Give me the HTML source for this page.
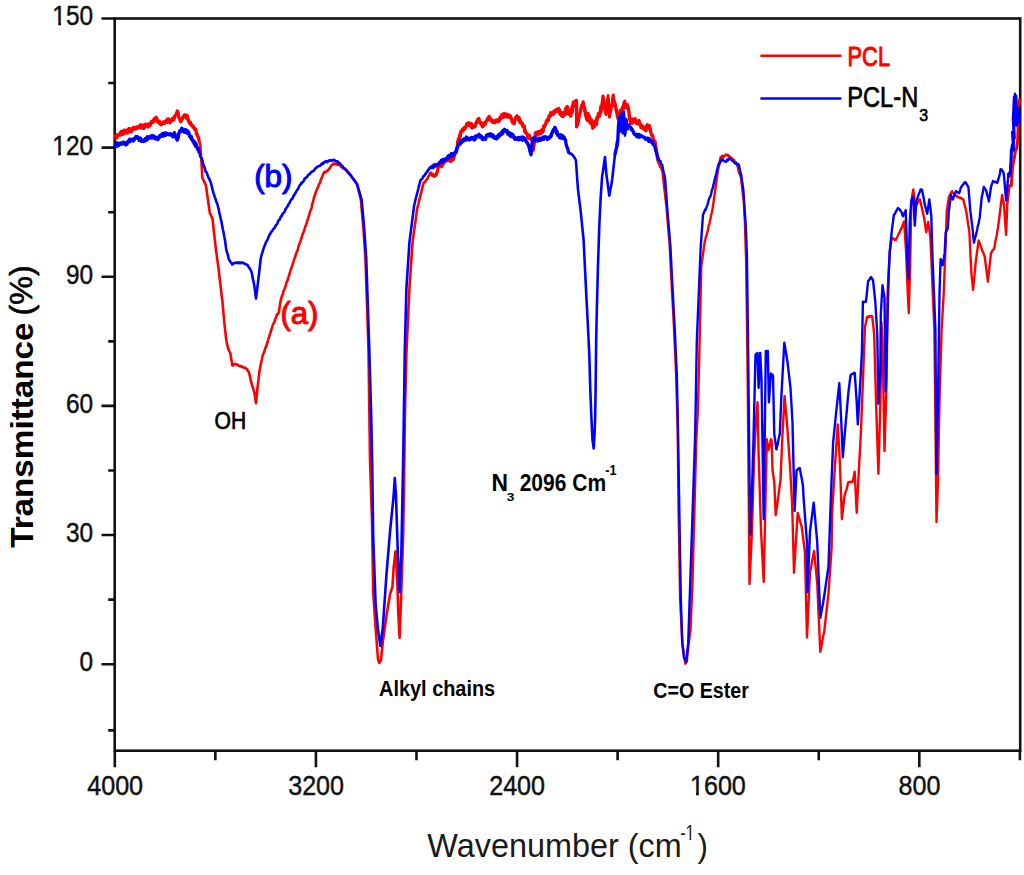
<!DOCTYPE html>
<html><head><meta charset="utf-8"><style>
html,body{margin:0;padding:0;background:#fff;}
svg{display:block;font-family:"Liberation Sans",sans-serif;}
</style></head><body>
<svg width="1024" height="875" viewBox="0 0 1024 875">
<rect width="1024" height="875" fill="#fff"/>
<rect x="114.7" y="18.5" width="905.50" height="732.20" fill="none" stroke="#111" stroke-width="2.6"/>
<path d="M101.50 18.50H114.7 M101.50 147.64H114.7 M101.50 276.78H114.7 M101.50 405.92H114.7 M101.50 535.06H114.7 M101.50 664.20H114.7 M108.20 83.07H114.7 M108.20 212.21H114.7 M108.20 341.35H114.7 M108.20 470.49H114.7 M108.20 599.63H114.7 M108.20 730.40H114.7 M114.80 750.7V767.2 M315.93 750.7V767.2 M517.06 750.7V767.2 M718.18 750.7V767.2 M919.31 750.7V767.2 M215.36 750.7V760.2 M416.49 750.7V760.2 M617.62 750.7V760.2 M818.75 750.7V760.2 M1019.88 750.7V760.2" stroke="#111" stroke-width="2.6" fill="none"/>
<text transform="translate(52.37,25.48) scale(0.8990,1)" font-size="27.18" font-weight="normal" fill="#111" stroke="#111" stroke-width="0.45">150</text><g transform="translate(52.37,25.48) scale(0.8990,1)"><rect x="0.82" y="-4.04" width="5.66" height="6.16" fill="#fff"/><rect x="9.62" y="-4.04" width="5.32" height="6.16" fill="#fff"/></g>
<text transform="translate(52.37,154.62) scale(0.8990,1)" font-size="27.18" font-weight="normal" fill="#111" stroke="#111" stroke-width="0.45">120</text><g transform="translate(52.37,154.62) scale(0.8990,1)"><rect x="0.82" y="-4.04" width="5.66" height="6.16" fill="#fff"/><rect x="9.62" y="-4.04" width="5.32" height="6.16" fill="#fff"/></g>
<text transform="translate(65.93,283.76) scale(0.8990,1)" font-size="27.18" font-weight="normal" fill="#111" stroke="#111" stroke-width="0.45">90</text>
<text transform="translate(65.93,412.90) scale(0.8990,1)" font-size="27.18" font-weight="normal" fill="#111" stroke="#111" stroke-width="0.45">60</text>
<text transform="translate(65.93,542.04) scale(0.8990,1)" font-size="27.18" font-weight="normal" fill="#111" stroke="#111" stroke-width="0.45">30</text>
<text transform="translate(79.61,671.18) scale(0.8990,1)" font-size="27.18" font-weight="normal" fill="#111" stroke="#111" stroke-width="0.45">0</text>
<text transform="translate(87.23,794.63) scale(0.9149,1)" font-size="27.46" font-weight="normal" fill="#111" stroke="#111" stroke-width="0.45">4000</text>
<text transform="translate(288.17,794.63) scale(0.9149,1)" font-size="27.46" font-weight="normal" fill="#111" stroke="#111" stroke-width="0.45">3200</text>
<text transform="translate(489.18,794.63) scale(0.9149,1)" font-size="27.46" font-weight="normal" fill="#111" stroke="#111" stroke-width="0.45">2400</text>
<text transform="translate(689.99,794.63) scale(0.9149,1)" font-size="27.46" font-weight="normal" fill="#111" stroke="#111" stroke-width="0.45">1600</text><g transform="translate(689.99,794.63) scale(0.9149,1)"><rect x="0.82" y="-4.06" width="5.72" height="6.18" fill="#fff"/><rect x="9.71" y="-4.06" width="5.36" height="6.18" fill="#fff"/></g>
<text transform="translate(898.47,794.63) scale(0.9149,1)" font-size="27.46" font-weight="normal" fill="#111" stroke="#111" stroke-width="0.45">800</text>
<path d="M115.0 137.7 L115.6 135.6 L116.2 138.3 L116.9 137.5 L117.5 134.8 L118.1 135.4 L118.8 134.7 L119.4 135.1 L120.0 134.0 L120.6 135.0 L121.2 131.7 L121.9 131.2 L122.5 134.5 L123.1 132.5 L123.8 133.7 L124.4 130.1 L125.0 132.0 L125.6 131.5 L126.2 132.5 L126.8 130.2 L127.5 133.1 L128.1 132.7 L128.7 128.7 L129.3 128.4 L129.9 130.3 L130.5 130.3 L131.2 131.9 L131.8 129.3 L132.4 128.4 L133.1 129.1 L133.7 127.3 L134.4 127.9 L135.0 129.0 L135.6 128.5 L136.2 128.5 L136.9 127.1 L137.5 126.8 L138.1 126.5 L138.8 127.3 L139.4 126.3 L140.0 127.0 L140.6 124.8 L141.2 128.2 L141.9 126.9 L142.5 127.1 L143.1 125.0 L143.8 128.4 L144.4 127.7 L145.0 126.0 L145.6 124.1 L146.2 124.9 L146.8 126.4 L147.5 126.1 L148.1 126.9 L148.7 124.5 L149.3 124.6 L150.0 125.4 L150.7 124.0 L151.3 121.8 L152.0 122.0 L152.6 121.6 L153.2 122.2 L153.8 121.3 L154.4 119.1 L155.0 118.3 L155.6 119.2 L156.2 117.3 L156.8 118.8 L157.4 121.8 L158.0 121.0 L158.7 121.4 L159.3 121.1 L160.0 123.5 L160.7 124.0 L161.3 124.6 L161.9 124.2 L162.5 122.6 L163.2 122.6 L163.8 122.6 L164.4 123.5 L165.0 122.0 L165.6 121.9 L166.2 121.1 L166.8 121.4 L167.4 119.1 L168.0 121.0 L168.7 118.9 L169.3 121.8 L170.0 122.9 L170.7 121.1 L171.3 120.2 L172.0 120.6 L172.6 118.2 L173.2 118.8 L173.8 120.0 L174.4 118.1 L175.0 116.0 L175.8 114.5 L176.5 114.2 L177.3 110.9 L178.2 113.3 L179.0 118.0 L179.8 118.9 L180.5 121.7 L181.3 120.6 L182.2 119.1 L183.0 117.0 L183.7 116.3 L184.4 114.9 L185.2 115.6 L185.9 114.9 L186.6 118.3 L187.3 115.5 L188.0 119.0 L188.6 121.2 L189.2 122.4 L189.8 123.6 L190.4 122.9 L191.1 124.7 L191.7 125.8 L192.3 125.3 L193.0 126.0 L193.7 127.5 L194.3 128.1 L195.0 129.7 L195.8 129.3 L196.5 134.4 L197.3 134.3 L197.9 136.8 L198.5 137.4 L199.1 140.8" stroke="#ff0000" stroke-width="3.3" fill="none" stroke-linejoin="round" stroke-linecap="round"/>
<path d="M199.1 140.8 L199.7 142.9 L200.3 145.1 L201.6 164.2 L202.3 177.9 L203.0 179.0 L203.7 180.4 L204.4 182.1 L205.1 183.6 L205.8 184.8 L206.5 189.5 L207.1 193.9 L207.8 198.5 L209.9 213.6 L210.6 214.3 L211.2 215.9 L211.9 217.2 L212.6 219.0 L214.0 232.7 L216.0 249.9 L218.6 269.1 L220.6 286.6 L222.5 302.2 L224.4 323.6 L226.4 341.0 L227.0 343.7 L227.7 346.7 L228.3 348.8 L229.0 350.5 L229.6 351.8 L230.3 352.7 L230.9 357.3 L231.6 360.8 L232.2 365.3 L232.8 365.6 L233.5 365.2 L234.1 364.2 L234.8 364.0 L235.4 363.8 L236.1 364.3 L236.8 365.0 L237.4 364.6 L238.1 364.8 L238.7 365.8 L239.3 365.7 L240.0 366.3 L240.6 365.9 L241.3 366.2 L241.9 367.0 L242.6 366.7 L243.2 367.0 L243.9 367.9 L244.5 367.7 L245.2 367.7 L245.8 368.2 L246.4 368.9 L247.0 369.1 L247.6 370.4 L248.2 371.2 L248.8 372.1 L249.5 374.6 L250.2 377.4 L251.0 381.4 L251.7 383.8 L252.4 386.2 L253.1 388.2 L253.9 391.2 L254.6 393.5 L255.3 398.8 L256.0 403.2 L257.5 387.7 L259.4 372.1 L260.0 368.3 L260.6 365.2 L261.2 362.3 L261.8 360.0 L262.4 356.6 L263.0 354.4 L263.6 353.5 L264.2 351.7 L264.8 349.9 L265.4 347.7 L266.0 347.1 L266.6 345.1 L267.2 343.0 L267.8 341.1 L268.4 338.7 L269.0 337.4 L269.6 335.1 L270.3 333.4 L270.9 331.0 L271.5 329.5 L272.1 327.4 L272.8 325.0 L273.4 323.6 L274.1 322.7 L274.8 320.8 L275.5 318.3 L276.1 317.3 L276.8 315.0 L277.4 313.9 L278.1 314.0 L278.7 312.6 L279.4 308.8 L280.0 304.3 L280.7 300.3 L281.4 297.9 L282.1 295.4 L282.8 294.5 L283.5 291.3 L284.2 289.8 L284.8 288.3 L285.5 286.6 L286.1 284.2 L286.7 281.7 L287.4 280.7 L288.0 279.0 L288.6 276.7 L289.3 274.5 L289.9 272.4 L290.6 270.4 L291.2 268.3 L291.8 267.1 L292.5 264.8 L293.1 263.0 L293.7 260.8 L294.3 258.9 L294.9 257.9 L295.5 255.6 L296.1 254.1 L296.7 252.0 L297.3 251.0 L297.9 249.3 L298.5 246.2 L299.1 244.7 L299.7 243.1 L300.3 242.2 L300.9 240.2 L301.5 237.8 L302.1 236.2 L302.7 233.9 L303.4 232.6 L304.0 231.0 L304.6 229.2 L305.3 226.4 L305.9 225.3 L306.6 223.1 L307.2 220.9 L307.8 219.7 L308.5 216.8 L309.1 215.5 L309.7 212.7 L310.4 210.9 L311.0 209.5 L311.7 207.3 L312.4 203.5 L313.1 201.5 L313.8 198.5 L314.5 195.6 L315.2 194.4 L315.8 192.1 L316.5 190.4 L317.2 188.6 L317.9 187.8 L318.5 185.7 L319.2 183.9 L319.9 183.0 L320.5 181.3 L321.2 178.7 L321.9 177.7 L322.6 175.6 L323.2 173.9 L323.9 173.0 L324.5 171.9 L325.1 172.6 L325.7 172.0 L326.4 171.6 L327.0 170.5 L327.6 170.4 L328.2 170.2 L328.8 169.3 L329.4 168.3 L330.1 167.7 L330.7 166.4 L331.4 165.4 L332.0 164.8 L332.7 164.8 L333.3 163.4 L334.0 163.7 L334.6 164.3 L335.3 163.8 L335.9 163.8 L336.6 164.6 L337.2 164.8 L337.9 164.0 L338.5 164.9 L339.2 164.9 L339.8 164.9 L340.4 165.5 L341.1 166.8 L341.7 166.4 L342.3 167.1 L342.9 168.4 L343.6 168.3 L344.2 168.4 L344.8 169.0 L345.4 169.6 L346.1 170.5 L346.7 170.8 L347.4 171.2 L348.0 172.7 L348.7 173.0 L349.4 174.3 L350.0 175.0 L350.7 175.3 L351.3 176.0 L352.0 177.0 L352.6 177.9 L353.2 178.4 L353.9 179.7 L354.5 180.2 L355.1 181.0 L355.8 182.6 L356.4 183.0 L357.0 184.0 L357.6 186.6 L358.3 189.1 L358.9 191.6 L359.5 194.0 L360.2 197.1 L360.8 199.4 L363.3 227.2 L365.4 258.0 L367.0 304.3 L368.5 350.6 L370.0 460.0 L372.0 520.0 L373.2 592.0 L375.6 628.0 L378.0 659.0 L379.2 662.8 L379.8 662.1 L380.4 661.2 L381.0 660.0 L382.8 642.4 L386.4 616.0 L390.0 594.4 L390.8 591.8 L391.6 589.4 L392.4 587.2 L393.6 568.0 L395.5 551.2 L397.2 580.0 L398.4 616.0 L399.6 637.6 L401.3 592.0 L403.2 532.0 L404.4 460.0 L404.8 420.0 L406.4 353.7 L409.4 288.9 L412.5 242.6 L417.2 208.6 L417.8 206.2 L418.4 204.0 L419.0 201.2 L419.6 198.9 L420.2 196.4 L420.9 193.7 L421.5 191.4 L422.1 188.7 L422.7 186.2 L423.3 184.0 L423.9 182.6 L424.6 181.9 L425.2 181.9 L425.9 180.3 L426.5 179.7 L427.1 178.8 L427.8 178.4 L428.4 176.5 L429.1 175.5 L429.7 174.6 L430.4 173.6" stroke="#ff0000" stroke-width="2.6" fill="none" stroke-linejoin="round" stroke-linecap="round"/>
<path d="M430.4 173.6 L431.0 173.1 L431.6 174.5 L432.2 175.3 L432.9 174.5 L433.5 175.2 L434.1 176.2 L435.0 175.8 L435.9 175.2 L436.6 173.5 L437.3 171.6 L438.0 168.5 L438.7 165.9 L439.4 165.4 L440.2 164.9 L440.9 164.7 L441.7 166.4 L442.3 165.5 L443.0 162.8 L443.6 161.8 L444.2 162.7 L444.8 160.4 L445.5 161.2 L446.1 159.1 L446.8 159.2 L447.4 160.6 L448.1 158.0 L448.7 159.4 L449.4 160.7 L450.0 157.9 L450.7 161.5 L451.3 158.4 L452.0 159.8 L452.6 159.8 L453.3 159.6 L453.9 157.8 L454.5 154.4 L455.1 152.4 L455.8 153.0 L456.4 151.8 L457.1 148.5 L457.8 141.5 L458.4 138.9 L459.1 139.9 L459.7 134.9 L460.3 136.6 L460.9 131.1 L461.6 130.7 L462.2 129.8 L462.9 130.9 L463.5 129.8 L464.2 129.6 L464.8 128.7 L465.5 127.6 L466.1 126.7 L466.8 123.8 L467.4 124.3 L468.1 123.9 L468.7 122.7 L469.4 125.5 L470.0 125.6 L470.7 124.1 L471.3 123.6 L472.0 128.0 L472.6 127.6 L473.3 126.8 L473.9 126.9 L474.5 126.0 L475.2 126.4 L475.8 123.5 L476.4 122.2 L477.0 120.9 L477.7 119.5 L478.3 119.5 L478.9 118.4 L479.6 122.3 L480.2 122.3 L480.8 124.0 L481.4 122.8 L482.1 125.2 L482.7 126.9 L483.4 124.3 L484.0 123.3 L484.7 122.9 L485.3 124.5 L486.0 121.5 L486.6 120.6 L487.3 120.6 L487.9 117.9 L488.6 118.1 L489.2 116.4 L489.9 119.2 L490.5 119.6 L491.2 120.7 L491.8 120.3 L492.5 121.9 L493.1 122.6 L493.8 120.8 L494.4 122.5 L495.0 122.0 L495.7 121.5 L496.3 120.0 L496.9 120.4 L497.5 120.6 L498.2 121.8 L498.8 119.5 L499.5 120.8 L500.1 117.3 L500.8 118.5 L501.4 115.2 L502.1 114.7 L502.7 116.2 L503.4 117.3 L504.0 113.4 L504.7 114.4 L505.4 115.9 L506.0 116.7 L506.7 114.3 L507.3 116.3 L508.0 117.2 L508.6 115.3 L509.3 117.0 L509.9 117.4 L510.6 116.6 L511.3 118.5 L512.0 121.2 L512.8 122.9 L513.5 122.5 L514.1 123.6 L514.7 120.9 L515.4 118.0 L516.0 117.4 L516.6 116.3 L517.2 116.6 L517.9 118.0 L518.5 119.9 L519.2 117.6 L519.8 121.6 L520.5 122.8 L521.1 122.1 L521.8 123.9 L522.4 123.3 L523.1 126.9 L523.7 126.9 L524.3 126.2 L524.9 132.1 L525.5 132.7 L526.2 133.4 L526.8 133.1 L527.4 135.7 L528.0 138.0 L528.7 138.6 L529.3 135.1 L530.0 138.4 L530.6 139.1 L531.2 138.6 L531.9 139.2 L532.5 138.6 L533.3 150.3 L535.5 132.7 L536.1 132.4 L536.8 134.7 L537.4 134.9 L538.1 132.1 L538.7 134.1 L539.4 132.4 L540.0 131.1 L540.7 131.9 L541.3 132.7 L541.9 129.7 L542.6 132.1 L543.2 131.1 L543.8 125.9 L544.4 126.9 L545.1 124.7 L545.7 123.9 L546.4 120.9 L547.0 120.7 L547.7 119.3 L548.3 120.6 L549.0 115.9 L549.6 115.6 L550.3 115.7 L550.9 112.5 L551.6 113.7 L552.2 113.9 L552.8 113.5 L553.4 114.2 L554.0 110.8 L554.6 110.8 L555.2 111.7 L555.9 110.0 L556.5 111.2 L557.1 109.0 L557.7 111.1 L558.3 111.5 L558.9 109.3 L559.5 112.2 L560.2 114.3 L560.8 112.2 L561.4 112.6 L562.0 116.3 L562.7 116.5 L563.3 115.2 L563.9 115.0 L564.6 112.5 L565.2 110.7 L565.8 108.3 L566.4 113.8 L567.1 106.7 L567.7 109.3 L568.5 113.0 L569.2 112.6 L570.0 113.7 L570.7 116.1 L571.5 112.4 L572.2 112.5 L572.9 106.4 L573.5 102.1 L574.1 104.4 L574.7 104.1 L575.3 100.8 L575.9 101.5 L576.5 100.5 L576.6 126.9 L577.2 123.2 L577.8 122.3 L578.5 115.1 L579.1 116.6 L579.7 114.2 L580.3 112.2 L581.0 107.9 L581.8 106.2 L582.5 107.1 L583.2 102.0 L583.9 107.3 L584.7 109.2 L585.4 114.3 L586.1 116.6 L586.7 115.9 L587.4 114.8 L588.0 113.4 L588.6 116.3 L589.2 119.6 L589.9 122.5 L590.5 119.5 L591.2 123.9 L592.0 122.5 L592.7 128.3 L593.4 125.4 L594.0 124.0 L594.7 126.3 L595.3 121.5 L595.9 123.4 L596.5 124.6 L597.2 117.4 L597.8 118.1 L598.4 113.7 L599.0 116.2 L599.6 114.0 L600.3 111.0 L600.9 106.3 L601.5 109.3 L603.0 96.1 L605.9 113.7 L608.1 97.6 L609.5 116.6 L610.1 112.2 L610.7 109.1 L611.4 105.5 L612.0 106.2 L612.6 100.3 L613.2 96.1 L613.9 101.1 L614.7 105.5 L615.4 104.9 L616.1 110.4 L616.8 111.4 L617.6 117.0 L618.3 118.1 L619.0 117.7 L619.6 116.2 L620.3 114.4 L620.9 110.7 L621.6 111.1 L622.2 109.5 L622.9 110.6 L623.5 107.6 L624.2 103.4 L624.8 107.0 L625.4 106.8 L626.0 107.6 L626.7 106.3 L627.3 104.7 L627.9 106.4 L628.6 109.5 L629.4 117.6 L630.1 121.0 L630.7 123.4 L631.4 121.3 L632.0 118.9 L632.6 123.0 L633.2 120.9 L633.9 120.8 L634.5 121.0 L635.1 118.6 L635.8 121.7 L636.4 123.4 L637.1 121.8 L637.7 121.7 L638.4 123.9 L639.0 120.4 L639.7 123.6 L640.3 123.9 L640.9 127.4 L641.6 126.7 L642.2 125.8 L642.8 128.4 L643.4 128.7 L644.1 127.2 L644.7 129.8 L645.3 127.4 L646.0 130.9 L646.6 126.5 L647.2 124.7 L647.8 128.6 L648.5 126.2 L649.1 125.4 L649.8 127.2 L650.5 130.6 L651.3 134.3 L652.0 135.7 L652.6 135.4 L653.2 138.6 L653.8 139.9 L654.4 141.3 L655.0 141.5 L657.9 160.6 L658.5 161.6 L659.2 163.7 L659.8 164.4 L660.4 166.6" stroke="#ff0000" stroke-width="3.3" fill="none" stroke-linejoin="round" stroke-linecap="round"/>
<path d="M660.4 166.6 L661.0 167.2 L661.7 169.9 L662.3 170.8 L664.5 189.9 L666.5 207.6 L669.7 246.0 L671.3 278.0 L673.9 326.0 L676.1 374.0 L677.7 430.0 L678.6 509.0 L680.1 598.3 L682.3 642.9 L685.3 663.7 L686.1 662.6 L687.0 660.0 L688.5 645.0 L690.5 629.5 L692.4 584.7 L694.2 519.0 L696.3 440.0 L697.9 410.0 L699.6 341.4 L701.3 266.0 L704.7 242.0 L705.4 239.1 L706.0 236.2 L706.6 235.3 L707.3 232.2 L708.0 229.9 L708.6 225.5 L709.2 224.9 L709.9 221.4 L710.5 218.8 L711.1 215.3 L711.8 212.7 L712.4 210.0 L715.5 188.0 L718.0 170.0 L718.6 167.4 L719.3 164.2 L720.0 159.6 L720.6 157.1 L721.2 157.2 L721.9 155.8 L722.5 157.5 L723.1 156.0 L723.8 156.9 L724.4 156.2 L725.0 155.6 L725.7 154.6 L726.3 154.9 L726.9 155.3 L727.6 154.8 L728.2 155.2 L728.8 156.9 L729.5 156.5 L730.1 157.8 L730.7 156.9 L731.4 158.4 L732.0 158.3 L732.7 159.6 L733.3 159.5 L734.0 159.8 L734.6 161.3 L735.3 162.4 L735.9 162.2 L736.6 164.0 L737.2 165.4 L737.9 167.2 L738.5 170.6 L739.2 173.4 L739.8 174.0 L740.5 175.7 L741.1 178.9 L743.8 201.7 L744.9 222.3 L746.1 260.0 L746.7 300.0 L747.2 340.0 L747.7 380.0 L749.5 583.9 L752.0 530.0 L754.0 460.0 L756.0 420.0 L757.5 402.3 L758.6 453.7 L761.0 530.0 L763.7 581.9 L765.5 500.0 L766.8 439.3 L767.6 444.9 L768.5 450.0 L769.3 446.7 L770.1 443.3 L770.9 439.3 L771.6 440.0 L772.5 470.0 L773.4 476.3 L774.3 482.3 L775.7 515.2 L778.4 496.0 L780.5 479.6 L782.5 434.3 L784.6 396.0 L787.3 427.4 L790.0 465.8 L792.1 502.9 L794.0 572.6 L797.7 512.9 L798.4 515.1 L799.1 518.0 L799.8 519.7 L800.4 522.7 L801.1 524.5 L801.8 527.3 L804.9 552.0 L807.0 637.4 L810.0 572.6 L810.7 568.9 L811.4 565.4 L812.0 561.7 L812.7 557.9 L813.4 554.3 L814.1 551.0 L817.2 582.9 L820.3 651.8 L821.0 648.5 L821.7 644.6 L822.3 641.1 L823.0 637.1 L823.7 634.0 L824.4 630.2 L828.5 593.2 L831.6 547.9 L832.1 512.8 L835.1 463.5 L837.8 424.4 L839.9 463.5 L841.9 519.0 L844.4 496.4 L845.1 493.8 L845.8 491.7 L846.5 489.6 L847.1 487.3 L847.8 483.9 L848.5 482.0 L849.2 482.3 L849.9 482.4 L850.5 481.8 L851.2 481.9 L851.9 482.1 L852.6 482.0 L853.3 479.0 L854.0 475.0 L854.7 471.7 L856.7 512.8 L858.8 471.7 L860.9 432.6 L862.9 381.2 L865.0 326.4 L865.7 323.7 L866.3 320.5 L867.0 317.1 L867.6 316.6 L868.3 317.3 L869.0 316.2 L869.6 316.2 L870.2 316.6 L870.9 315.9 L871.6 316.1 L872.2 316.1 L874.2 334.6 L876.0 400.0 L878.4 473.7 L880.4 401.7 L881.4 322.3 L882.5 340.0 L884.5 451.1 L886.6 381.2 L887.6 293.5 L889.7 252.3 L891.7 237.9 L892.4 237.9 L893.1 238.6 L893.8 239.3 L894.4 239.7 L895.1 239.2 L895.8 240.0 L896.4 238.4 L897.0 238.0 L897.6 236.0 L898.2 235.0 L898.8 233.7 L899.4 232.5 L900.0 231.7 L900.7 229.5 L901.4 228.4 L902.0 226.8 L902.7 225.0 L903.4 223.5 L904.1 221.4 L906.1 252.3 L907.8 293.5 L908.8 313.0 L910.2 262.6 L911.3 200.9 L912.0 197.3 L912.6 193.2 L913.3 189.5 L915.4 207.0 L916.0 205.9 L916.6 205.0 L917.3 203.5 L917.9 201.9 L918.5 200.9 L919.2 199.7 L920.0 199.4 L920.7 202.9 L921.4 205.7 L922.0 208.5 L922.7 211.8 L923.4 214.9 L924.1 217.9 L924.8 222.7 L925.5 227.1 L926.2 232.3 L926.9 228.7 L927.5 225.3 L928.2 222.0 L930.3 236.4 L931.3 257.0 L932.8 294.0 L934.4 330.0 L935.5 430.0 L936.5 522.0 L938.0 480.0 L939.5 400.0 L941.6 330.0 L943.7 294.0 L945.7 242.6 L946.7 211.7 L948.8 197.3 L949.4 195.8 L950.0 195.2 L950.7 193.6 L951.3 192.6 L951.9 191.2 L952.5 192.2 L953.1 193.1 L953.8 193.9 L954.4 194.7 L955.0 195.3 L955.7 195.4 L956.4 196.4 L957.0 196.0 L957.7 197.1 L958.4 197.3 L959.1 197.3 L959.8 198.0 L960.5 197.6 L961.2 197.9 L961.8 199.0 L962.5 199.0 L963.2 199.4 L963.8 201.7 L964.4 204.8 L965.1 206.3 L965.7 209.3 L966.3 211.7 L969.4 232.3 L971.4 273.5 L973.1 289.9 L975.6 263.2 L978.6 240.5 L979.2 242.1 L979.8 243.4 L980.5 245.4 L981.1 247.3 L981.7 248.8 L982.3 250.8 L982.9 251.6 L983.6 253.7 L984.2 255.0 L984.8 257.0 L987.9 281.7 L991.0 252.9 L991.6 252.4 L992.2 250.8 L992.9 250.0 L993.5 249.5 L994.1 248.8 L994.7 245.7 L995.3 242.0 L996.0 238.5 L996.6 235.9 L997.2 232.3 L998.0 227.6 L998.7 222.3 L1002.1 194.9 L1002.7 198.8 L1003.4 201.3 L1004.0 205.0 L1006.1 234.9 L1007.3 204.0 L1009.6 185.7" stroke="#ff0000" stroke-width="2.4" fill="none" stroke-linejoin="round" stroke-linecap="round"/>
<path d="M1009.6 185.7 L1010.5 185.5 L1011.3 185.7 L1012.4 168.6 L1013.2 163.5 L1014.0 160.0 L1014.6 155.9 L1015.3 151.4 L1016.0 149.5 L1016.6 148.6 L1017.7 140.0 L1018.2 125.0 L1017.5 118.0 L1018.9 102.9 L1019.5 99.4" stroke="#ff0000" stroke-width="3.0" fill="none" stroke-linejoin="round" stroke-linecap="round"/>
<path d="M560.0 110.4 L560.5 111.9 L561.0 115.5 L561.5 112.5 L562.0 113.5 L562.5 114.8 L563.0 112.3 L563.5 115.0 L564.0 115.3 L564.5 115.9 L565.0 109.7 L565.5 110.7 L566.0 108.3 L566.5 113.4 L567.0 111.8 L567.5 105.9 L568.0 113.7 L568.5 114.5 L569.0 113.0 L569.5 113.7 L570.0 111.0 L570.5 108.6 L571.0 111.4 L571.5 106.4 L572.0 106.2 L572.5 105.3 L573.0 102.5 L573.5 105.1 L574.0 104.1 L574.5 106.5 L575.0 103.1 L575.5 103.3 L576.0 101.3 L576.5 101.8 L577.0 125.0 L577.5 121.5 L578.0 125.3 L578.5 123.3 L579.0 120.1 L579.5 117.0 L580.0 111.9 L580.5 109.3 L581.0 108.1 L581.5 104.5 L582.0 108.4 L582.5 103.7 L583.0 105.5 L583.5 102.6 L584.0 109.7 L584.5 111.3 L585.0 107.1 L585.5 111.3 L586.0 119.4 L586.5 116.6 L587.0 121.0 L587.5 116.7 L588.0 114.4 L588.5 119.2 L589.0 120.7 L589.5 117.0 L590.0 115.9 L590.5 118.2 L591.0 124.2 L591.5 123.6 L592.0 119.5 L592.5 121.5 L593.0 121.4 L593.5 121.7 L594.0 126.8 L594.5 121.0 L595.0 123.2 L595.5 121.5 L596.0 118.6 L596.5 122.1 L597.0 116.5 L597.5 119.7 L598.0 114.6 L598.5 115.8 L599.0 112.9 L599.5 112.2 L600.0 116.6 L600.5 114.1 L601.0 108.9 L601.5 112.4 L602.0 102.6 L602.5 99.7 L603.0 98.9 L603.5 100.3 L604.0 99.0 L604.5 109.1 L605.0 105.9 L605.5 109.3 L606.0 115.1 L606.5 107.9 L607.0 104.0 L607.5 98.6 L608.0 95.1 L608.5 103.7 L609.0 107.8 L609.5 117.4 L610.0 112.8 L610.5 110.7 L611.0 112.0 L611.5 105.4 L612.0 103.3 L612.5 102.9 L613.0 94.7 L613.5 94.5 L614.0 102.6 L614.5 103.8 L615.0 101.3 L615.5 102.9 L616.0 109.5 L616.5 113.4 L617.0 109.8 L617.5 118.1 L618.0 119.8 L618.5 118.4 L619.0 115.7 L619.5 111.9 L620.0 110.2 L620.5 116.3 L621.0 109.3 L621.5 111.8 L622.0 106.9 L622.5 110.2 L623.0 107.2 L623.5 103.5 L624.0 101.3 L624.5 105.4 L625.0 100.6 L625.5 102.3 L626.0 105.3 L626.5 108.1 L627.0 106.6 L627.5 104.3 L628.0 110.4 L628.5 108.0 L629.0 109.8 L629.5 115.2 L630.0 119.9" stroke="#ff0000" stroke-width="2.2" fill="none" stroke-linejoin="round" stroke-linecap="round"/>
<path d="M118.0 135.4 L118.5 135.6 L119.0 135.3 L119.5 133.2 L120.0 132.4 L120.5 133.4 L121.0 132.9 L121.5 134.4 L122.0 133.8 L122.5 133.3 L123.0 133.0 L123.5 133.1 L124.0 131.3 L124.5 132.0 L125.0 130.9 L125.5 133.1 L126.0 130.2 L126.5 132.5 L127.0 129.9 L127.5 131.7 L128.0 130.4 L128.5 130.5 L129.0 131.7 L129.5 128.9 L130.0 128.9 L130.5 131.5 L131.0 130.0 L131.5 128.6 L132.0 131.3 L132.5 131.1 L133.0 128.3 L133.5 129.1 L134.0 128.1 L134.5 128.5 L135.0 129.4 L135.5 127.7 L136.0 129.2 L136.5 127.0 L137.0 127.1 L137.5 129.0 L138.0 127.5 L138.5 127.3 L139.0 127.7 L139.5 127.1 L140.0 126.6 L140.5 125.4 L141.0 127.5 L141.5 128.2 L142.0 128.1 L142.5 127.0 L143.0 125.9 L143.5 125.9 L144.0 126.8 L144.5 126.7 L145.0 124.8 L145.5 125.0 L146.0 125.2 L146.5 125.5 L147.0 126.3 L147.5 125.2 L148.0 123.5 L148.5 125.9 L149.0 124.5 L149.5 124.5 L150.0 123.0 L150.5 123.2 L151.0 122.6 L151.5 123.4 L152.0 120.7 L152.5 121.5 L153.0 119.7 L153.5 120.8 L154.0 118.1 L154.5 118.2 L155.0 117.8 L155.5 119.2 L156.0 117.8 L156.5 119.5 L157.0 119.2 L157.5 119.9 L158.0 120.9 L158.5 123.0 L159.0 122.1 L159.5 124.1 L160.0 122.2 L160.5 125.1 L161.0 123.4 L161.5 122.6 L162.0 124.2 L162.5 124.5 L163.0 121.4 L163.5 122.0 L164.0 123.3 L164.5 121.7 L165.0 121.2 L165.5 120.3 L166.0 120.2 L166.5 121.9 L167.0 122.9 L167.5 122.8 L168.0 121.0 L168.5 119.4 L169.0 120.3 L169.5 121.8 L170.0 121.9 L170.5 121.2 L171.0 119.8 L171.5 120.7 L172.0 120.5 L172.5 120.2 L173.0 118.3 L173.5 119.7 L174.0 118.8 L174.5 115.7 L175.0 115.3 L175.5 116.1 L176.0 113.1 L176.5 114.1 L177.0 111.6 L177.5 112.4 L178.0 114.5 L178.5 115.0 L179.0 117.3 L179.5 117.8 L180.0 119.7 L180.5 120.3 L181.0 119.1 L181.5 121.4 L182.0 118.9 L182.5 117.2 L183.0 116.8 L183.5 118.2 L184.0 116.5 L184.5 116.3 L185.0 116.9 L185.5 116.7 L186.0 115.9 L186.5 115.8 L187.0 117.3 L187.5 119.3 L188.0 119.9 L188.5 120.1 L189.0 120.1 L189.5 121.0 L190.0 123.0 L190.5 123.2 L191.0 122.1 L191.5 124.9 L192.0 126.1 L192.5 126.4 L193.0 127.3 L193.5 128.2 L194.0 128.0 L194.5 129.7 L195.0 129.3 L195.5 129.4 L196.0 131.2 L196.5 132.1 L197.0 135.1 L197.5 135.6 L198.0 137.0" stroke="#ff0000" stroke-width="2.2" fill="none" stroke-linejoin="round" stroke-linecap="round"/>
<path d="M440.0 164.9 L440.5 166.5 L441.0 166.7 L441.5 167.4 L442.0 164.9 L442.5 164.2 L443.0 163.1 L443.5 162.5 L444.0 163.3 L444.5 160.6 L445.0 161.0 L445.5 159.2 L446.0 158.6 L446.5 158.9 L447.0 160.3 L447.5 159.6 L448.0 157.8 L448.5 158.7 L449.0 158.3 L449.5 160.7 L450.0 160.6 L450.5 160.6 L451.0 160.7 L451.5 160.5 L452.0 161.2 L452.5 159.8 L453.0 157.2 L453.5 158.2 L454.0 156.1 L454.5 156.1 L455.0 154.6 L455.5 153.2 L456.0 152.1 L456.5 150.8 L457.0 146.8 L457.5 142.5 L458.0 142.0 L458.5 140.6 L459.0 139.9 L459.5 137.6 L460.0 135.8 L460.5 135.1 L461.0 131.8 L461.5 132.2 L462.0 130.2 L462.5 128.5 L463.0 128.0 L463.5 128.6 L464.0 127.2 L464.5 127.4 L465.0 127.3 L465.5 126.2 L466.0 124.8 L466.5 125.5 L467.0 124.2 L467.5 123.7 L468.0 123.0 L468.5 123.7 L469.0 123.0 L469.5 125.1 L470.0 126.3 L470.5 124.8 L471.0 126.1 L471.5 127.0 L472.0 124.5 L472.5 125.0 L473.0 127.4 L473.5 127.8 L474.0 127.2 L474.5 124.8 L475.0 124.8 L475.5 125.4 L476.0 124.6 L476.5 123.5 L477.0 120.7 L477.5 122.0 L478.0 119.6 L478.5 120.5 L479.0 119.5 L479.5 123.0 L480.0 122.7 L480.5 123.9 L481.0 123.1 L481.5 125.3 L482.0 126.0 L482.5 126.9 L483.0 126.0 L483.5 126.4 L484.0 124.5 L484.5 123.6 L485.0 122.4 L485.5 123.3 L486.0 120.7 L486.5 120.4 L487.0 119.1 L487.5 120.2 L488.0 119.2 L488.5 118.4 L489.0 116.9 L489.5 118.6 L490.0 118.7 L490.5 118.2 L491.0 118.3 L491.5 121.9 L492.0 119.5 L492.5 120.4 L493.0 120.7 L493.5 122.1 L494.0 120.8 L494.5 122.3 L495.0 121.7 L495.5 122.8 L496.0 119.8 L496.5 120.5 L497.0 120.7 L497.5 121.9 L498.0 120.1 L498.5 119.6 L499.0 119.9 L499.5 118.2 L500.0 117.0 L500.5 118.0 L501.0 118.9 L501.5 117.9 L502.0 116.0 L502.5 116.9 L503.0 117.0 L503.5 114.7 L504.0 115.3 L504.5 114.1 L505.0 113.7 L505.5 114.0 L506.0 113.9 L506.5 114.6 L507.0 113.8 L507.5 115.1 L508.0 114.3 L508.5 116.6 L509.0 116.3 L509.5 114.6 L510.0 117.3 L510.5 115.6 L511.0 117.4 L511.5 118.6 L512.0 118.9 L512.5 119.8 L513.0 121.3 L513.5 121.3 L514.0 122.9 L514.5 119.7 L515.0 121.1 L515.5 118.4 L516.0 117.9 L516.5 117.4 L517.0 115.4 L517.5 115.9 L518.0 117.4 L518.5 118.5 L519.0 120.7 L519.5 121.8 L520.0 119.6 L520.5 121.9 L521.0 121.4 L521.5 124.4 L522.0 123.6 L522.5 126.3 L523.0 125.9 L523.5 125.4 L524.0 126.0 L524.5 128.0 L525.0 131.2 L525.5 130.1 L526.0 132.3 L526.5 133.1 L527.0 134.3 L527.5 136.7 L528.0 135.1 L528.5 137.0 L529.0 137.1 L529.5 138.3 L530.0 137.2 L530.5 138.8 L531.0 137.6 L531.5 138.3 L532.0 138.7 L532.5 139.7 L533.0 147.2 L533.5 147.5 L534.0 143.5 L534.5 140.8 L535.0 137.7 L535.5 132.8 L536.0 132.1 L536.5 134.2 L537.0 132.1 L537.5 131.4 L538.0 131.3 L538.5 131.2 L539.0 133.4 L539.5 131.4 L540.0 133.4 L540.5 133.9 L541.0 134.3 L541.5 133.3 L542.0 131.1 L542.5 130.7 L543.0 130.4 L543.5 129.0 L544.0 126.6 L544.5 127.1 L545.0 124.1 L545.5 123.7 L546.0 125.0 L546.5 122.4 L547.0 120.9 L547.5 121.7 L548.0 119.8 L548.5 117.5 L549.0 116.7 L549.5 116.6 L550.0 115.9 L550.5 117.0 L551.0 113.9 L551.5 115.0 L552.0 114.6 L552.5 112.9 L553.0 114.4 L553.5 113.4 L554.0 112.2 L554.5 111.2 L555.0 111.5 L555.5 112.6 L556.0 111.2 L556.5 109.8 L557.0 110.0 L557.5 110.1 L558.0 108.9 L558.5 109.8 L559.0 107.9 L559.5 111.1 L560.0 109.7" stroke="#ff0000" stroke-width="2.2" fill="none" stroke-linejoin="round" stroke-linecap="round"/>
<path d="M115.0 145.1 L115.6 146.8 L116.2 146.6 L116.9 142.9 L117.5 142.9 L118.1 145.8 L118.8 145.2 L119.4 144.8 L120.0 144.0 L120.6 143.1 L121.3 144.2 L121.9 144.1 L122.6 143.9 L123.2 142.1 L123.8 143.1 L124.5 142.8 L125.1 144.0 L125.8 145.0 L126.4 142.9 L127.0 144.4 L127.6 142.4 L128.3 141.7 L128.9 140.7 L129.5 139.4 L130.1 139.1 L130.8 140.5 L131.4 139.6 L132.0 140.0 L132.7 139.3 L133.3 141.1 L134.0 139.3 L134.6 139.2 L135.3 137.7 L135.9 136.6 L136.6 137.5 L137.2 136.5 L137.9 137.7 L138.5 138.2 L139.2 140.5 L139.8 139.6 L140.5 138.1 L141.1 141.3 L141.8 141.4 L142.4 140.6 L143.0 141.2 L143.7 141.6 L144.3 140.7 L144.9 140.5 L145.5 138.4 L146.2 140.6 L146.8 140.2 L147.4 136.7 L148.0 138.8 L148.7 138.3 L149.3 137.1 L149.9 136.8 L150.5 136.9 L151.2 136.5 L151.8 138.1 L152.4 136.2 L153.0 136.0 L153.6 137.7 L154.2 136.1 L154.8 138.5 L155.5 138.9 L156.1 137.5 L156.7 138.2 L157.3 138.3 L158.0 139.5 L158.6 138.3 L159.3 136.8 L160.0 135.3 L160.7 135.2 L161.3 136.3 L162.0 135.0 L162.6 133.4 L163.3 136.1 L163.9 133.3 L164.5 135.6 L165.1 132.9 L165.8 135.2 L166.4 133.1 L167.0 134.2 L167.7 133.6 L168.3 133.9 L168.9 134.7 L169.6 134.7 L170.2 133.9 L170.8 133.7 L171.5 135.2 L172.1 135.4 L172.8 136.8 L173.6 135.2 L174.3 132.7 L175.0 134.0 L175.8 137.3 L176.5 138.9 L177.3 140.0 L178.2 138.1 L179.0 133.0 L179.8 130.7 L180.5 131.8 L181.3 129.7 L181.9 128.2 L182.5 130.7 L183.2 129.4 L183.8 129.5 L184.4 132.3 L185.0 131.0 L185.6 129.6 L186.2 131.5 L186.9 133.0 L187.5 130.8 L188.1 132.0 L188.8 132.1 L189.4 136.1 L190.1 135.5 L190.7 138.0 L191.4 136.6 L192.0 139.2 L192.7 141.0 L193.4 140.6 L194.1 143.5 L194.8 142.0 L195.4 146.4 L196.1 143.6 L196.8 146.4 L197.5 149.2 L198.3 148.3 L199.0 152.0" stroke="#0000ff" stroke-width="3.3" fill="none" stroke-linejoin="round" stroke-linecap="round"/>
<path d="M199.0 152.0 L199.7 153.0 L200.3 156.6 L201.0 157.4 L201.7 158.5 L202.4 160.7 L203.1 164.0 L203.7 165.4 L204.4 166.9 L205.1 169.7 L205.7 171.8 L206.3 172.0 L206.9 173.2 L207.5 175.0 L208.1 176.8 L208.7 178.3 L209.3 178.8 L209.9 180.5 L210.5 182.1 L211.2 183.9 L211.9 186.9 L212.6 189.9 L213.3 192.3 L214.0 194.4 L214.7 196.9 L215.4 198.6 L216.0 200.7 L216.7 202.4 L217.4 204.0 L218.1 207.0 L218.8 209.6 L219.4 213.2 L220.1 215.7 L220.8 219.0 L221.5 221.9 L222.2 225.8 L222.9 229.8 L223.5 232.2 L224.2 236.3 L224.9 239.6 L225.6 244.6 L226.3 249.9 L227.0 252.4 L227.8 254.5 L228.5 258.1 L229.2 260.0 L229.8 260.6 L230.4 261.9 L231.0 262.6 L231.6 262.9 L232.2 264.5 L232.8 264.3 L233.5 263.5 L234.1 263.1 L234.7 262.8 L235.4 262.8 L236.0 263.0 L236.7 262.3 L237.4 262.9 L238.2 262.7 L238.9 263.2 L239.6 262.4 L240.3 263.1 L241.0 263.3 L241.6 262.4 L242.3 262.8 L243.0 263.0 L243.7 262.9 L244.3 263.6 L245.0 263.9 L245.7 264.4 L246.3 264.5 L247.0 264.5 L247.6 265.2 L248.3 266.5 L248.9 267.7 L249.6 268.0 L250.2 269.1 L250.9 270.7 L251.5 271.9 L252.1 274.3 L252.7 278.2 L253.3 280.5 L253.9 283.3 L254.5 286.8 L255.2 292.3 L256.0 298.7 L258.9 274.9 L260.7 258.6 L261.4 255.8 L262.0 253.4 L262.7 251.4 L263.4 249.0 L264.0 247.4 L264.6 245.7 L265.2 244.6 L265.8 242.5 L266.4 241.4 L267.0 240.7 L267.6 239.6 L268.2 238.0 L268.8 236.4 L269.4 235.2 L270.0 234.0 L270.6 233.3 L271.2 231.6 L271.9 231.3 L272.5 230.6 L273.1 229.2 L273.8 228.3 L274.4 228.4 L275.0 227.1 L275.7 225.7 L276.3 224.8 L277.0 224.1 L277.7 222.5 L278.3 220.9 L279.0 220.0 L279.7 219.7 L280.3 217.8 L281.0 216.3 L281.6 216.2 L282.3 214.4 L282.9 213.6 L283.6 212.9 L284.2 212.3 L284.9 211.0 L285.5 209.1 L286.1 208.6 L286.7 207.5 L287.4 206.5 L288.0 205.5 L288.7 203.9 L289.4 203.3 L290.1 201.5 L290.7 200.6 L291.4 199.6 L292.1 198.6 L292.8 198.1 L293.4 195.8 L294.1 195.7 L294.7 193.8 L295.4 193.2 L296.0 192.0 L296.7 190.7 L297.3 189.7 L298.0 189.1 L298.7 187.5 L299.4 186.0 L300.0 184.9 L300.7 184.3 L301.4 182.9 L302.0 183.1 L302.7 181.9 L303.4 181.5 L304.0 180.3 L304.7 178.5 L305.3 178.6 L306.0 177.5 L306.6 177.3 L307.2 176.6 L307.8 175.7 L308.4 174.9 L309.1 174.4 L309.7 174.3 L310.3 172.9 L310.9 172.7 L311.5 172.0 L312.1 171.4 L312.8 171.5 L313.4 170.7 L314.1 170.4 L314.7 169.7 L315.4 168.4 L316.0 167.8 L316.7 167.6 L317.3 166.7 L318.0 166.5 L318.6 166.0 L319.2 166.0 L319.9 165.9 L320.5 165.0 L321.1 164.9 L321.7 163.5 L322.4 163.5 L323.0 164.0 L323.6 162.9 L324.2 162.1 L324.9 162.2 L325.5 161.5 L326.1 161.2 L326.7 162.1 L327.4 162.0 L328.0 161.0 L328.6 161.1 L329.2 160.3 L329.9 160.4 L330.5 160.2 L331.1 160.7 L331.7 160.6 L332.4 160.1 L333.0 160.1 L333.6 160.0 L334.3 159.8 L335.0 160.6 L335.6 161.3 L336.3 161.4 L337.0 161.3 L337.6 161.3 L338.2 162.3 L338.9 163.1 L339.5 163.0 L340.1 164.2 L340.7 164.3 L341.3 164.9 L342.0 165.9 L342.6 166.2 L343.2 167.5 L343.9 168.0 L344.5 168.4 L345.1 168.7 L345.8 169.7 L346.4 170.0 L347.1 171.2 L347.7 172.1 L348.3 172.2 L349.0 173.1 L349.6 173.8 L350.2 174.6 L350.8 175.4 L351.5 176.5 L352.1 177.6 L352.7 178.2 L353.3 178.9 L353.9 180.1 L354.5 180.5 L355.1 181.6 L355.8 182.4 L356.4 183.3 L357.0 184.0 L357.7 186.4 L358.3 188.2 L359.0 190.7 L359.6 192.7 L360.3 195.1 L360.9 197.5 L361.6 199.4 L364.1 227.2 L366.2 258.0 L367.8 304.3 L369.3 350.6 L371.3 420.0 L372.2 464.6 L373.2 536.8 L375.6 604.0 L378.0 630.0 L380.4 646.0 L382.8 628.0 L386.4 575.2 L390.0 532.0 L391.2 520.0 L393.6 496.0 L394.8 478.0 L396.0 496.0 L397.9 556.0 L399.6 592.0 L401.3 556.0 L402.7 484.0 L403.5 440.0 L404.8 350.6 L406.4 288.9 L409.4 242.6 L414.1 205.6 L414.7 203.2 L415.3 200.4 L415.9 198.2 L416.5 195.8 L417.1 193.5 L417.8 190.9 L418.4 188.5 L419.0 185.6 L419.6 183.6 L420.2 180.9 L420.8 180.2 L421.4 179.3 L422.1 178.8 L422.7 178.0 L423.3 176.3 L423.9 176.3 L424.5 175.5 L425.2 173.9 L425.8 173.8 L426.4 172.8 L427.0 171.3 L427.6 171.5 L428.3 169.5 L428.9 169.5 L429.5 168.5 L430.1 168.0" stroke="#0000ff" stroke-width="2.6" fill="none" stroke-linejoin="round" stroke-linecap="round"/>
<path d="M430.1 168.0 L430.7 167.3 L431.4 167.6 L432.0 167.1 L432.6 166.1 L433.2 167.7 L433.8 165.0 L434.5 164.5 L435.1 165.5 L435.7 166.1 L436.3 165.3 L436.9 165.2 L437.6 164.1 L438.2 164.4 L438.8 163.5 L439.4 162.6 L440.1 161.9 L440.7 162.2 L441.3 160.3 L441.9 160.0 L442.6 161.8 L443.2 159.5 L443.8 161.0 L444.5 160.7 L445.1 159.0 L445.7 159.5 L446.3 159.4 L447.0 159.3 L447.6 157.6 L448.2 155.9 L448.8 155.6 L449.4 156.1 L450.0 156.0 L450.6 155.0 L451.2 153.6 L451.9 155.3 L452.5 156.5 L453.1 153.8 L453.7 154.1 L454.3 153.1 L454.9 153.2 L455.5 151.5 L456.2 151.8 L456.8 148.1 L457.4 148.0 L458.0 145.8 L458.7 144.6 L459.3 143.0 L460.0 144.2 L460.6 140.3 L461.3 142.8 L461.9 140.3 L462.6 141.1 L463.2 141.3 L463.9 140.2 L464.5 138.7 L465.2 138.6 L465.8 140.0 L466.4 137.0 L467.1 139.1 L467.7 138.2 L468.3 138.7 L468.9 140.0 L469.5 139.8 L470.2 139.1 L470.8 137.8 L471.4 137.5 L472.0 138.4 L472.7 137.5 L473.3 137.7 L473.9 138.6 L474.5 140.0 L475.2 136.2 L475.8 138.6 L476.4 136.5 L477.0 136.0 L477.7 135.4 L478.3 135.7 L479.0 134.3 L479.6 136.2 L480.3 135.3 L480.9 136.8 L481.6 136.5 L482.2 139.2 L482.9 139.6 L483.5 138.0 L484.2 138.6 L484.9 138.7 L485.5 139.3 L486.2 136.4 L486.8 135.0 L487.5 135.1 L488.1 134.4 L488.8 135.9 L489.4 134.2 L490.1 134.2 L490.7 134.0 L491.4 136.2 L492.0 134.4 L492.7 137.1 L493.3 136.8 L494.0 136.3 L494.6 138.4 L495.3 136.9 L495.9 137.9 L496.5 138.8 L497.2 138.4 L497.8 136.2 L498.4 136.3 L499.0 136.8 L499.7 135.4 L500.3 134.9 L500.9 134.7 L501.6 134.4 L502.2 133.1 L502.8 133.5 L503.4 130.1 L504.1 130.9 L504.7 129.8 L505.3 131.0 L505.9 130.3 L506.5 130.9 L507.1 130.5 L507.7 134.1 L508.4 132.2 L509.0 133.1 L509.6 135.3 L510.2 133.0 L510.8 136.6 L511.4 133.7 L512.0 135.7 L512.6 134.2 L513.3 135.9 L513.9 136.4 L514.5 139.0 L515.1 139.3 L515.8 139.2 L516.4 138.6 L517.0 138.3 L517.6 138.8 L518.2 137.5 L518.8 139.9 L519.4 138.2 L520.0 137.7 L520.7 139.2 L521.3 137.2 L521.9 137.9 L522.5 140.3 L523.1 137.0 L523.7 138.6 L524.3 138.0 L525.0 139.1 L525.6 140.1 L526.2 141.7 L526.8 141.8 L527.5 143.0 L528.1 144.5 L528.8 146.0 L529.5 148.6 L530.3 152.6 L531.0 154.7 L532.5 138.6 L533.2 138.1 L533.8 138.4 L534.5 140.2 L535.1 137.5 L535.8 138.0 L536.4 141.0 L537.1 139.5 L537.7 141.0 L538.4 140.1 L539.1 138.3 L539.7 139.5 L540.4 140.5 L541.0 138.1 L541.7 139.5 L542.3 138.5 L543.0 137.3 L543.6 139.4 L544.3 137.1 L544.9 136.9 L545.5 137.4 L546.1 138.2 L546.8 137.2 L547.4 139.5 L548.0 138.8 L548.6 138.6 L549.3 137.8 L549.9 136.5 L550.6 137.1 L551.2 136.0 L551.9 134.2 L552.5 131.6 L553.2 130.2 L553.8 129.5 L554.5 128.3 L555.1 127.5 L555.8 128.8 L556.4 133.5 L557.0 131.0 L557.6 135.3 L558.3 135.4 L558.9 135.7 L559.6 137.7 L560.2 134.7 L560.9 135.9 L561.5 138.2 L562.2 135.3 L562.8 136.1 L563.5 137.4 L564.1 137.0 L564.8 138.6 L565.5 140.2 L566.3 145.0 L567.0 147.3 L567.7 148.3 L568.5 152.1" stroke="#0000ff" stroke-width="3.3" fill="none" stroke-linejoin="round" stroke-linecap="round"/>
<path d="M568.5 152.1 L569.2 153.2 L569.9 153.6 L570.7 153.3 L571.4 154.4 L572.1 154.3 L572.7 155.0 L573.4 156.2 L574.0 157.2 L574.6 157.7 L575.3 159.1 L575.9 160.0 L577.9 188.6 L580.7 211.4 L583.6 240.0 L585.0 268.6 L586.4 297.0 L587.9 325.7 L589.3 354.3 L590.3 390.0 L591.5 420.0 L592.5 440.0 L593.1 443.8 L593.7 448.5 L594.5 435.0 L595.2 415.0 L595.6 390.0 L596.2 340.0 L596.8 311.4 L597.9 268.6 L599.3 225.7 L600.7 197.0 L602.1 177.0 L605.0 157.0 L606.4 174.3 L609.3 195.7 L610.0 191.5 L610.7 188.3 L611.4 184.2 L612.1 180.0 L615.0 154.3" stroke="#0000ff" stroke-width="2.6" fill="none" stroke-linejoin="round" stroke-linecap="round"/>
<path d="M615.0 154.3 L615.7 150.8 L616.5 147.7 L617.2 144.9 L617.9 140.0 L618.3 128.3 L618.9 121.7 L619.5 118.0 L620.5 131.0 L621.5 115.0 L622.5 130.0 L623.5 112.2 L624.2 126.0 L624.9 134.0 L626.0 120.0 L627.1 125.0 L627.7 125.7 L628.4 124.9 L629.0 125.5 L629.6 126.2 L630.2 127.3 L630.9 127.3 L631.5 129.8 L632.2 129.3 L632.8 130.6 L633.5 132.3 L634.1 133.9 L634.8 134.7 L635.4 134.6 L636.1 134.4 L636.7 136.7 L637.4 135.7 L638.0 134.5 L638.7 134.4 L639.3 137.4 L640.0 136.8 L640.6 135.3 L641.3 136.1 L641.9 136.0 L642.6 136.7 L643.2 137.1 L643.8 137.1 L644.4 137.2 L645.1 139.0 L645.7 139.3 L646.3 138.6 L646.9 138.5 L647.5 138.0 L648.1 140.2 L648.8 141.3 L649.4 138.5 L650.0 140.7 L650.6 140.1 L651.2 141.9 L651.9 142.8 L652.5 141.4 L653.1 144.5 L653.7 144.1 L654.4 145.1 L655.0 147.4 L655.7 150.2 L656.5 153.0 L657.2 155.4 L657.9 157.6 L658.5 159.3" stroke="#0000ff" stroke-width="3.3" fill="none" stroke-linejoin="round" stroke-linecap="round"/>
<path d="M658.5 159.3 L659.2 160.2 L659.8 160.7 L660.4 160.9 L661.0 163.4 L661.7 164.6 L662.3 165.0 L663.0 169.3 L663.8 172.5 L664.5 175.0 L665.2 179.6 L667.2 207.6 L670.4 246.0 L672.0 278.0 L674.6 326.0 L676.8 374.0 L677.8 420.0 L679.3 509.0 L680.8 598.3 L682.3 642.9 L684.0 658.0 L684.7 658.8 L685.5 660.0 L686.2 662.2 L688.2 642.9 L689.7 598.3 L692.7 509.0 L695.0 440.0 L695.6 410.0 L696.8 341.4 L698.9 290.0 L700.6 248.9 L703.0 214.6 L703.6 213.5 L704.3 211.8 L705.0 209.6 L705.6 209.9 L706.2 208.5 L706.9 206.0 L707.5 205.0 L708.2 202.1 L708.8 199.8 L709.5 197.7 L710.1 197.2 L710.8 195.0 L711.4 192.6 L712.1 189.3 L712.8 188.1 L713.5 184.5 L714.2 181.4 L714.9 178.9 L715.6 175.9 L716.3 173.9 L716.9 170.5 L717.6 168.2 L718.3 165.1 L719.0 163.1 L719.7 163.3 L720.3 161.1 L721.0 161.5 L721.7 159.4 L722.4 159.2 L723.1 159.9 L723.7 160.9 L724.4 161.0 L725.1 161.7 L725.8 161.3 L726.4 161.7 L727.1 159.5 L727.7 160.4 L728.4 159.7 L729.0 159.5 L729.7 158.3 L730.4 158.8 L731.0 159.5 L731.7 159.9 L732.3 160.9 L733.0 161.0 L733.6 161.5 L734.3 162.9 L735.0 163.2 L735.6 162.8 L736.3 163.8 L736.9 164.3 L737.6 164.0 L738.2 164.0 L738.9 165.1 L739.6 168.4 L740.4 172.1 L741.1 174.3 L743.4 190.3 L744.6 208.6 L745.7 224.6 L746.9 254.3 L747.5 300.0 L748.0 340.0 L748.9 420.0 L749.5 480.0 L750.3 534.5 L752.0 490.0 L753.4 443.5 L755.5 355.0 L756.2 354.0 L756.8 353.7 L757.5 352.9 L758.6 388.0 L760.2 352.9 L761.5 380.0 L763.7 519.0 L765.8 350.9 L766.5 351.1 L767.1 351.3 L767.8 350.9 L768.9 402.3 L770.9 373.5 L771.6 374.4 L772.3 374.7 L773.0 375.6 L774.3 434.3 L776.4 449.4 L777.1 446.1 L777.8 443.7 L778.4 440.1 L779.1 436.8 L779.8 434.3 L781.2 400.0 L784.3 342.6 L787.4 361.2 L790.5 388.0 L792.5 422.9 L794.6 510.9 L796.6 470.2 L797.2 470.1 L797.8 469.0 L798.5 468.7 L799.1 468.3 L799.7 468.0 L800.3 471.1 L800.9 474.9 L801.6 477.8 L802.2 481.2 L802.8 484.6 L803.8 500.6 L806.9 541.7 L807.5 592.1 L810.0 531.4 L813.7 502.6 L817.2 541.7 L820.3 617.9 L820.9 614.5 L821.5 611.6 L822.2 607.5 L822.8 604.8 L823.4 601.4 L828.5 566.4 L831.0 494.3 L833.1 442.9 L836.2 412.0 L839.3 383.2 L841.3 422.3 L842.8 457.3 L845.4 426.4 L848.5 391.4 L850.6 375.0 L851.3 374.3 L852.0 374.0 L852.7 374.1 L853.3 373.5 L854.0 372.8 L854.7 372.9 L856.7 401.7 L857.8 424.4 L859.8 391.4 L861.9 352.3 L862.9 301.7 L863.5 301.8 L864.1 302.1 L864.8 301.8 L865.4 301.7 L866.0 301.7 L868.1 281.1 L868.7 280.6 L869.3 279.9 L870.0 278.3 L870.6 277.6 L871.2 277.0 L872.1 279.0 L873.0 280.0 L875.3 301.7 L877.3 334.6 L878.4 403.8 L880.4 370.9 L880.8 314.0 L882.5 285.2 L883.2 289.8 L883.8 293.2 L884.5 297.6 L885.6 391.4 L887.6 314.0 L888.6 277.0 L889.7 252.3 L891.7 231.7 L893.8 215.3 L894.5 214.3 L895.2 213.3 L895.8 211.8 L896.5 210.7 L897.2 209.3 L897.9 208.1 L898.5 208.5 L899.1 209.1 L899.8 209.5 L900.4 210.7 L901.0 211.2 L901.7 212.5 L902.3 214.7 L903.0 216.3 L903.7 214.6 L904.4 213.1 L905.0 212.1 L905.7 210.1 L907.8 272.9 L908.6 279.1 L909.8 221.4 L911.3 200.9 L912.0 199.4 L912.6 198.1 L913.3 196.7 L914.8 225.6 L916.4 200.9 L917.1 198.9 L917.8 196.8 L918.5 194.9 L919.1 193.3 L919.8 191.7 L920.5 189.5 L921.3 189.4 L922.1 190.1 L922.7 193.6 L923.3 196.5 L923.9 199.0 L924.5 202.7 L925.1 205.6 L925.8 208.2 L926.5 211.1 L927.2 213.8 L929.3 199.4 L931.3 215.8 L932.3 252.9 L934.0 294.0 L935.4 330.0 L936.5 474.0 L938.0 400.0 L939.5 294.0 L940.6 259.1 L941.3 260.7 L941.9 263.2 L942.6 265.2 L943.3 261.1 L944.0 257.3 L944.7 252.9 L945.7 232.3 L946.4 231.0 L947.1 229.8 L947.8 228.2 L948.8 211.7 L950.9 195.3 L951.6 196.9 L952.2 197.8 L952.9 199.4 L953.5 197.3 L954.1 196.1 L954.8 194.1 L955.4 192.5 L956.0 191.2 L956.6 191.4 L957.2 192.0 L957.9 192.5 L958.5 192.9 L959.1 193.2 L959.8 191.6 L960.5 188.7 L961.2 187.0 L961.9 186.2 L962.6 184.9 L963.2 184.6 L963.9 183.5 L964.6 182.4 L965.3 181.9 L965.9 182.7 L966.5 184.1 L967.2 184.9 L967.8 186.4 L968.4 187.0 L970.4 211.7 L972.5 228.2 L973.9 242.6 L974.6 239.9 L975.2 237.3 L975.9 235.3 L976.6 232.3 L977.2 229.5 L977.8 226.1 L978.5 223.9 L979.1 220.6 L979.7 217.9 L981.7 197.3 L982.4 194.3 L983.1 190.6 L983.8 187.0 L984.5 188.3 L985.3 189.4 L986.0 190.0 L986.7 192.9 L987.5 196.2 L988.2 198.1 L988.9 201.4 L989.6 196.4 L990.3 192.1 L991.0 187.0 L991.7 184.5 L992.3 183.1 L993.0 180.9 L993.6 181.7 L994.2 181.7 L994.8 182.1 L995.4 181.6 L996.0 182.4 L996.6 182.7 L997.2 182.9 L997.9 180.8 L998.5 178.7 L999.2 176.7 L999.9 173.2 L1000.6 169.1 L1001.5 169.4 L1002.3 170.6 L1003.1 171.7 L1003.9 174.3 L1006.1 200.6 L1008.4 174.3" stroke="#0000ff" stroke-width="2.4" fill="none" stroke-linejoin="round" stroke-linecap="round"/>
<path d="M1008.4 174.3 L1009.1 173.8 L1009.8 174.1 L1010.5 172.0 L1011.4 150.0 L1012.4 146.9 L1013.0 149.4 L1013.6 150.0 L1012.4 132.0 L1013.1 134.5 L1013.7 135.4 L1014.4 138.0 L1013.2 120.0 L1014.3 97.1 L1015.1 97.8 L1016.0 96.0 L1016.2 125.0 L1016.9 122.1 L1017.6 122.0 L1016.6 112.0 L1017.5 109.5 L1018.3 108.6 L1019.5 120.0" stroke="#0000ff" stroke-width="3.0" fill="none" stroke-linejoin="round" stroke-linecap="round"/>
<path d="M616.0 153.0 L616.5 144.0 L617.0 140.6 L617.5 146.0 L618.0 134.5 L618.5 123.5 L619.0 123.5 L619.5 116.8 L620.0 127.6 L620.5 128.9 L621.0 126.7 L621.5 113.6 L622.0 123.3 L622.5 133.5 L623.0 122.6 L623.5 115.6 L624.0 123.7 L624.5 125.8 L625.0 135.8 L625.5 127.1 L626.0 118.5 L626.5 119.8 L627.0 127.3 L627.5 126.1 L628.0 129.5" stroke="#0000ff" stroke-width="2.2" fill="none" stroke-linejoin="round" stroke-linecap="round"/>
<path d="M118.0 145.7 L118.5 145.7 L119.0 145.4 L119.5 142.9 L120.0 144.3 L120.5 143.7 L121.0 143.9 L121.5 142.6 L122.0 142.7 L122.5 143.4 L123.0 142.6 L123.5 143.3 L124.0 141.9 L124.5 142.0 L125.0 143.8 L125.5 142.8 L126.0 143.0 L126.5 143.6 L127.0 142.2 L127.5 141.0 L128.0 142.9 L128.5 142.1 L129.0 142.0 L129.5 141.7 L130.0 142.4 L130.5 140.4 L131.0 141.3 L131.5 139.9 L132.0 140.2 L132.5 140.3 L133.0 139.1 L133.5 138.2 L134.0 139.1 L134.5 139.7 L135.0 139.1 L135.5 138.5 L136.0 138.9 L136.5 137.3 L137.0 137.1 L137.5 137.3 L138.0 138.7 L138.5 137.2 L139.0 137.3 L139.5 137.5 L140.0 137.7 L140.5 138.7 L141.0 139.9 L141.5 141.0 L142.0 139.8 L142.5 140.2 L143.0 139.7 L143.5 139.5 L144.0 140.6 L144.5 139.7 L145.0 138.6 L145.5 137.8 L146.0 139.6 L146.5 139.1 L147.0 139.3 L147.5 137.2 L148.0 137.9 L148.5 138.8 L149.0 137.5 L149.5 138.4 L150.0 135.9 L150.5 138.2 L151.0 135.3 L151.5 136.2 L152.0 134.9 L152.5 137.1 L153.0 136.6 L153.5 137.7 L154.0 137.4 L154.5 138.1 L155.0 137.2 L155.5 138.8 L156.0 138.4 L156.5 137.4 L157.0 139.6 L157.5 137.8 L158.0 136.9 L158.5 136.2 L159.0 137.0 L159.5 135.8 L160.0 137.7 L160.5 137.4 L161.0 134.8 L161.5 134.2 L162.0 135.1 L162.5 133.8 L163.0 134.7 L163.5 135.3 L164.0 133.4 L164.5 133.7 L165.0 134.9 L165.5 133.3 L166.0 132.8 L166.5 134.3 L167.0 134.3 L167.5 134.7 L168.0 134.3 L168.5 133.7 L169.0 134.7 L169.5 135.3 L170.0 135.0 L170.5 134.0 L171.0 134.3 L171.5 134.9 L172.0 136.2 L172.5 135.4 L173.0 135.1 L173.5 135.7 L174.0 133.3 L174.5 134.6 L175.0 133.5 L175.5 135.5 L176.0 137.6 L176.5 137.2 L177.0 140.6 L177.5 137.9 L178.0 137.3 L178.5 135.2 L179.0 132.2 L179.5 132.5 L180.0 131.5 L180.5 130.7 L181.0 130.8 L181.5 128.3 L182.0 129.6 L182.5 131.0 L183.0 129.2 L183.5 131.6 L184.0 129.8 L184.5 131.4 L185.0 130.0 L185.5 131.0 L186.0 131.1 L186.5 130.2 L187.0 132.2 L187.5 131.7 L188.0 132.5 L188.5 132.9 L189.0 133.9 L189.5 134.8 L190.0 135.1 L190.5 137.9 L191.0 136.4 L191.5 139.8 L192.0 140.7 L192.5 140.6 L193.0 142.2 L193.5 142.6 L194.0 143.0 L194.5 142.7 L195.0 143.5 L195.5 144.2 L196.0 144.8 L196.5 147.4 L197.0 146.4 L197.5 147.8 L198.0 149.2" stroke="#0000ff" stroke-width="2.2" fill="none" stroke-linejoin="round" stroke-linecap="round"/>
<path d="M440.0 163.3 L440.5 163.4 L441.0 161.1 L441.5 163.2 L442.0 160.4 L442.5 161.5 L443.0 159.5 L443.5 161.1 L444.0 159.0 L444.5 160.3 L445.0 160.0 L445.5 159.8 L446.0 158.5 L446.5 159.4 L447.0 159.5 L447.5 156.5 L448.0 157.4 L448.5 158.4 L449.0 157.5 L449.5 156.3 L450.0 155.6 L450.5 157.2 L451.0 154.3 L451.5 156.0 L452.0 156.0 L452.5 153.6 L453.0 153.8 L453.5 153.5 L454.0 153.9 L454.5 153.0 L455.0 154.1 L455.5 153.1 L456.0 150.1 L456.5 150.7 L457.0 147.0 L457.5 146.0 L458.0 146.5 L458.5 145.8 L459.0 144.7 L459.5 144.3 L460.0 143.6 L460.5 141.4 L461.0 142.5 L461.5 142.6 L462.0 139.8 L462.5 140.6 L463.0 139.2 L463.5 138.8 L464.0 139.4 L464.5 139.6 L465.0 140.2 L465.5 137.5 L466.0 138.6 L466.5 140.1 L467.0 139.4 L467.5 138.7 L468.0 137.8 L468.5 139.0 L469.0 137.9 L469.5 139.0 L470.0 139.0 L470.5 138.3 L471.0 139.5 L471.5 138.3 L472.0 138.5 L472.5 139.6 L473.0 137.9 L473.5 137.7 L474.0 138.8 L474.5 138.0 L475.0 139.0 L475.5 136.8 L476.0 136.8 L476.5 135.6 L477.0 136.4 L477.5 135.7 L478.0 135.7 L478.5 136.6 L479.0 134.7 L479.5 137.8 L480.0 137.2 L480.5 137.7 L481.0 137.1 L481.5 137.5 L482.0 137.2 L482.5 137.5 L483.0 137.2 L483.5 137.7 L484.0 137.9 L484.5 137.9 L485.0 139.2 L485.5 138.5 L486.0 137.7 L486.5 135.4 L487.0 135.8 L487.5 136.3 L488.0 136.3 L488.5 135.2 L489.0 135.4 L489.5 135.9 L490.0 133.6 L490.5 134.1 L491.0 135.6 L491.5 134.5 L492.0 136.1 L492.5 135.4 L493.0 134.6 L493.5 136.3 L494.0 135.4 L494.5 137.9 L495.0 138.4 L495.5 137.7 L496.0 139.0 L496.5 136.5 L497.0 136.7 L497.5 135.5 L498.0 134.6 L498.5 136.5 L499.0 133.7 L499.5 135.9 L500.0 134.3 L500.5 134.3 L501.0 131.9 L501.5 134.0 L502.0 133.2 L502.5 130.6 L503.0 130.4 L503.5 129.8 L504.0 130.5 L504.5 128.7 L505.0 130.9 L505.5 130.4 L506.0 131.5 L506.5 130.5 L507.0 132.1 L507.5 131.9 L508.0 132.9 L508.5 132.6 L509.0 134.7 L509.5 134.7 L510.0 135.1 L510.5 134.0 L511.0 134.0 L511.5 134.3 L512.0 134.6 L512.5 137.4 L513.0 135.7 L513.5 137.8 L514.0 136.2 L514.5 137.7 L515.0 136.9 L515.5 137.4 L516.0 139.1 L516.5 138.9 L517.0 139.9 L517.5 137.8 L518.0 137.9 L518.5 137.3 L519.0 137.7 L519.5 140.0 L520.0 138.8 L520.5 138.5 L521.0 138.1 L521.5 139.4 L522.0 139.2 L522.5 137.6 L523.0 137.2 L523.5 137.6 L524.0 140.0 L524.5 140.4 L525.0 139.5 L525.5 140.2 L526.0 141.1 L526.5 142.9 L527.0 143.8 L527.5 142.9 L528.0 143.9 L528.5 145.1 L529.0 149.0 L529.5 149.6 L530.0 152.5 L530.5 152.2 L531.0 155.1 L531.5 149.5 L532.0 145.3 L532.5 138.2 L533.0 137.9 L533.5 139.8 L534.0 140.3 L534.5 139.1 L535.0 138.7 L535.5 138.1 L536.0 139.3 L536.5 140.9 L537.0 139.3 L537.5 139.7 L538.0 140.2 L538.5 139.3 L539.0 138.6 L539.5 139.6 L540.0 140.7 L540.5 140.1 L541.0 138.2 L541.5 139.4 L542.0 139.3 L542.5 138.3 L543.0 137.3 L543.5 136.6 L544.0 137.9 L544.5 137.7 L545.0 136.5 L545.5 136.4 L546.0 136.5 L546.5 138.9 L547.0 139.2 L547.5 138.3 L548.0 138.7 L548.5 139.2 L549.0 136.9 L549.5 137.1 L550.0 136.0 L550.5 136.4 L551.0 133.4 L551.5 134.6 L552.0 131.6 L552.5 132.1 L553.0 132.1 L553.5 128.8 L554.0 129.1 L554.5 126.8 L555.0 129.2 L555.5 129.9 L556.0 132.2 L556.5 131.6 L557.0 133.7 L557.5 134.0 L558.0 135.2 L558.5 134.6 L559.0 134.5 L559.5 136.4 L560.0 135.1 L560.5 136.9 L561.0 135.8 L561.5 137.3 L562.0 138.0 L562.5 138.9 L563.0 136.8 L563.5 137.0 L564.0 138.0 L564.5 139.9 L565.0 138.7" stroke="#0000ff" stroke-width="2.2" fill="none" stroke-linejoin="round" stroke-linecap="round"/>
<path d="M1009.0 172.7 L1009.5 176.5 L1010.0 175.3 L1010.5 169.7 L1011.0 162.8 L1011.5 150.8 L1012.0 144.5 L1012.5 150.8 L1013.0 146.5 L1013.5 148.2 L1014.0 136.2 L1014.5 97.7 L1015.0 93.6 L1015.5 97.8 L1016.0 98.7 L1016.5 124.5 L1017.0 125.6 L1017.5 123.2 L1018.0 111.8 L1018.5 107.9 L1019.0 114.1" stroke="#0000ff" stroke-width="2.2" fill="none" stroke-linejoin="round" stroke-linecap="round"/>
<path d="M760.4 55.8H841.4" stroke="#ff0000" stroke-width="2.5"/>
<path d="M760.4 98.4H841.4" stroke="#0000ff" stroke-width="2.5"/>
<text transform="translate(427.34,857.19) scale(0.9715,1)" font-size="33.37" font-weight="normal" fill="#1a1a1a" xml:space="preserve">Wavenumber (cm</text>
<text transform="translate(680.17,840.20) scale(0.7616,1)" font-size="21.30" font-weight="normal" fill="#1a1a1a" xml:space="preserve">-1</text><g transform="translate(680.17,840.20) scale(0.7616,1)"><rect x="7.73" y="-3.31" width="4.58" height="5.21" fill="#fff"/><rect x="14.49" y="-3.31" width="4.33" height="5.21" fill="#fff"/></g>
<text transform="translate(697.59,857.24) scale(0.9396,1)" font-size="33.16" font-weight="normal" fill="#1a1a1a" xml:space="preserve">)</text>
<text transform="translate(32.58,547.83) rotate(-90) scale(1.0358,1)" font-size="32.11" font-weight="bold" fill="#000" xml:space="preserve">Transmittance</text>
<text transform="translate(32.19,315.54) rotate(-90) scale(1.0403,1)" font-size="31.02" font-weight="normal" fill="#000" stroke="#000" stroke-width="0.6" stroke-linejoin="round" xml:space="preserve">(%)</text>
<text transform="translate(847.55,66.12) scale(0.7838,1)" font-size="27.89" font-weight="normal" fill="#ff0000" stroke="#ff0000" stroke-width="1.0" stroke-linejoin="round" xml:space="preserve">PCL</text>
<text transform="translate(847.26,107.26) scale(0.8276,1)" font-size="28.59" font-weight="normal" fill="#000" stroke="#000" stroke-width="0.7" stroke-linejoin="round" xml:space="preserve">PCL-N</text>
<text transform="translate(919.26,120.64) scale(0.9684,1)" font-size="16.48" font-weight="normal" fill="#000" stroke="#000" stroke-width="0.6" stroke-linejoin="round" xml:space="preserve">3</text>
<text transform="translate(254.17,187.04) scale(1.0112,1)" font-size="31.02" font-weight="normal" fill="#0000ff" stroke="#0000ff" stroke-width="1.1" stroke-linejoin="round" xml:space="preserve">(b)</text>
<text transform="translate(280.38,324.48) scale(0.9788,1)" font-size="31.76" font-weight="normal" fill="#ff0000" stroke="#ff0000" stroke-width="1.1" stroke-linejoin="round" xml:space="preserve">(a)</text>
<text transform="translate(214.60,428.91) scale(0.8809,1)" font-size="23.94" font-weight="normal" fill="#000" stroke="#000" stroke-width="0.7" stroke-linejoin="round" xml:space="preserve">OH</text>
<text transform="translate(379.10,696.04) scale(0.8775,1)" font-size="22.67" font-weight="bold" fill="#000" xml:space="preserve">Alkyl chains</text>
<text transform="translate(491.41,491.10) scale(0.9569,1)" font-size="23.91" font-weight="bold" fill="#000" xml:space="preserve">N</text>
<text transform="translate(506.86,501.49) scale(1.2834,1)" font-size="10.70" font-weight="bold" fill="#000" xml:space="preserve">3</text>
<text transform="translate(519.66,490.87) scale(0.9045,1)" font-size="23.24" font-weight="bold" fill="#000" xml:space="preserve">2096 Cm</text>
<text transform="translate(605.20,474.60) scale(0.9028,1)" font-size="13.91" font-weight="bold" fill="#000" xml:space="preserve">-1</text>
<text transform="translate(653.31,697.68) scale(0.8838,1)" font-size="22.25" font-weight="bold" fill="#000" xml:space="preserve">C=O Ester</text>
</svg>
</body></html>
